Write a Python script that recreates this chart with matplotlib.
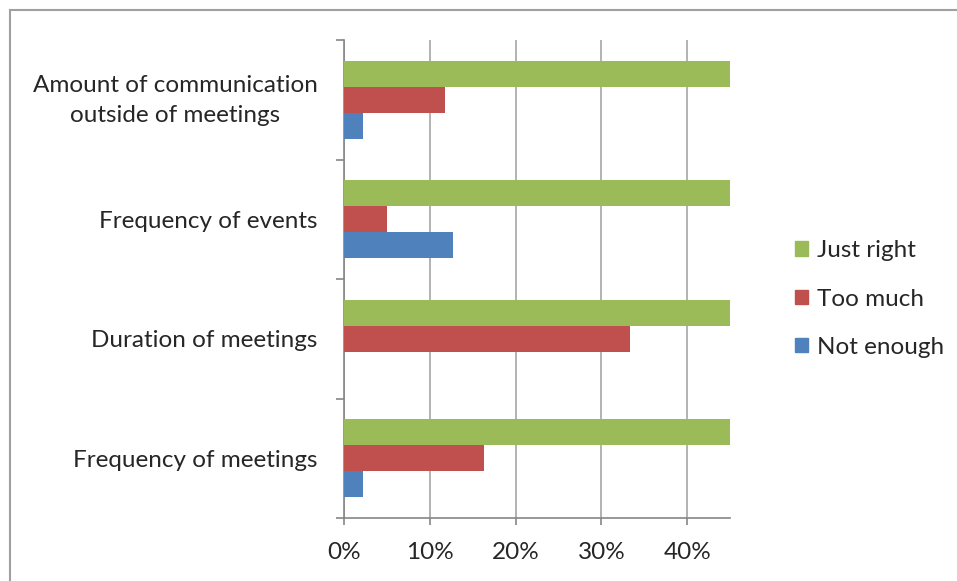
import matplotlib.pyplot as plt
from matplotlib.patches import Rectangle, Patch
from matplotlib.ticker import PercentFormatter
from matplotlib.transforms import ScaledTranslation

categories = ['Frequency of meetings', 'Duration of meetings', 'Frequency of events',
              'Amount of communication\noutside of meetings']
not_enough = [0.022, 0.0, 0.127, 0.022]
too_much = [0.163, 0.333, 0.050, 0.118]
just_right = [0.815, 0.667, 0.823, 0.860]

green = '#9BBB59'
red = '#C0504D'
blue = '#4F81BD'
grid_col = '#A6A6A6'
text_col = '#262626'
fs = 17.5

plt.rcParams['font.family'] = ['Lato', 'DejaVu Sans']
plt.rcParams['font.size'] = fs

fig = plt.figure(figsize=(9.57, 5.81), dpi=100)
ax = fig.add_axes([344 / 957, 1 - 518 / 581, 386 / 957, 478 / 581])

# rahmen um das ganze diagramm
fig.patches.append(Rectangle((10 / 957, -0.1), 1.2, 1 - 10 / 581 + 0.1, transform=fig.transFigure,
                             fill=False, edgecolor='#A0A0A0', linewidth=1.5))

h = 0.217
y = list(range(len(categories)))
ax.barh([v - h for v in y], not_enough, height=h, color=blue, label='Not enough', zorder=3)
ax.barh(y, too_much, height=h, color=red, label='Too much', zorder=3)
ax.barh([v + h for v in y], just_right, height=h, color=green, label='Just right', zorder=3)

ax.set_xlim(0, 0.45)
ax.set_ylim(-0.5, len(categories) - 0.5)
ax.set_xticks([0, 0.1, 0.2, 0.3, 0.4])
ax.xaxis.set_major_formatter(PercentFormatter(1.0, decimals=0))
ax.grid(axis='x', color=grid_col, linewidth=1.2, zorder=0)

ax.set_yticks(y)
ax.set_yticklabels(categories, multialignment='center', linespacing=1.55)
ax.set_yticks([v - 0.5 for v in range(len(categories) + 1)], minor=True)
ax.tick_params(axis='y', which='major', length=0, pad=19, colors=text_col, labelsize=fs)
ax.tick_params(axis='y', which='minor', length=6, width=1.2, color='#868686')
ax.tick_params(axis='x', length=5, width=1.2, color='#868686', pad=12, labelsize=fs, labelcolor=text_col)

# zweizeiliges label etwas nach oben schieben
lbl = ax.get_yticklabels()[-1]
lbl.set_transform(lbl.get_transform() + ScaledTranslation(0, 6 / 100, fig.dpi_scale_trans))

for s in ['top', 'right']:
    ax.spines[s].set_visible(False)
for s in ['left', 'bottom']:
    ax.spines[s].set_color('#868686')
    ax.spines[s].set_linewidth(1.2)

handles = [Patch(color=green), Patch(color=red), Patch(color=blue)]
fig.legend(handles, ['Just right', 'Too much', 'Not enough'], loc='center left',
           bbox_to_anchor=(795 / 957, 1 - 299 / 581), frameon=False, fontsize=fs,
           labelspacing=1.12, handlelength=0.55, handleheight=0.55, handletextpad=0.35,
           borderpad=0, borderaxespad=0, labelcolor=text_col)

fig.savefig('out.png', dpi=100)
